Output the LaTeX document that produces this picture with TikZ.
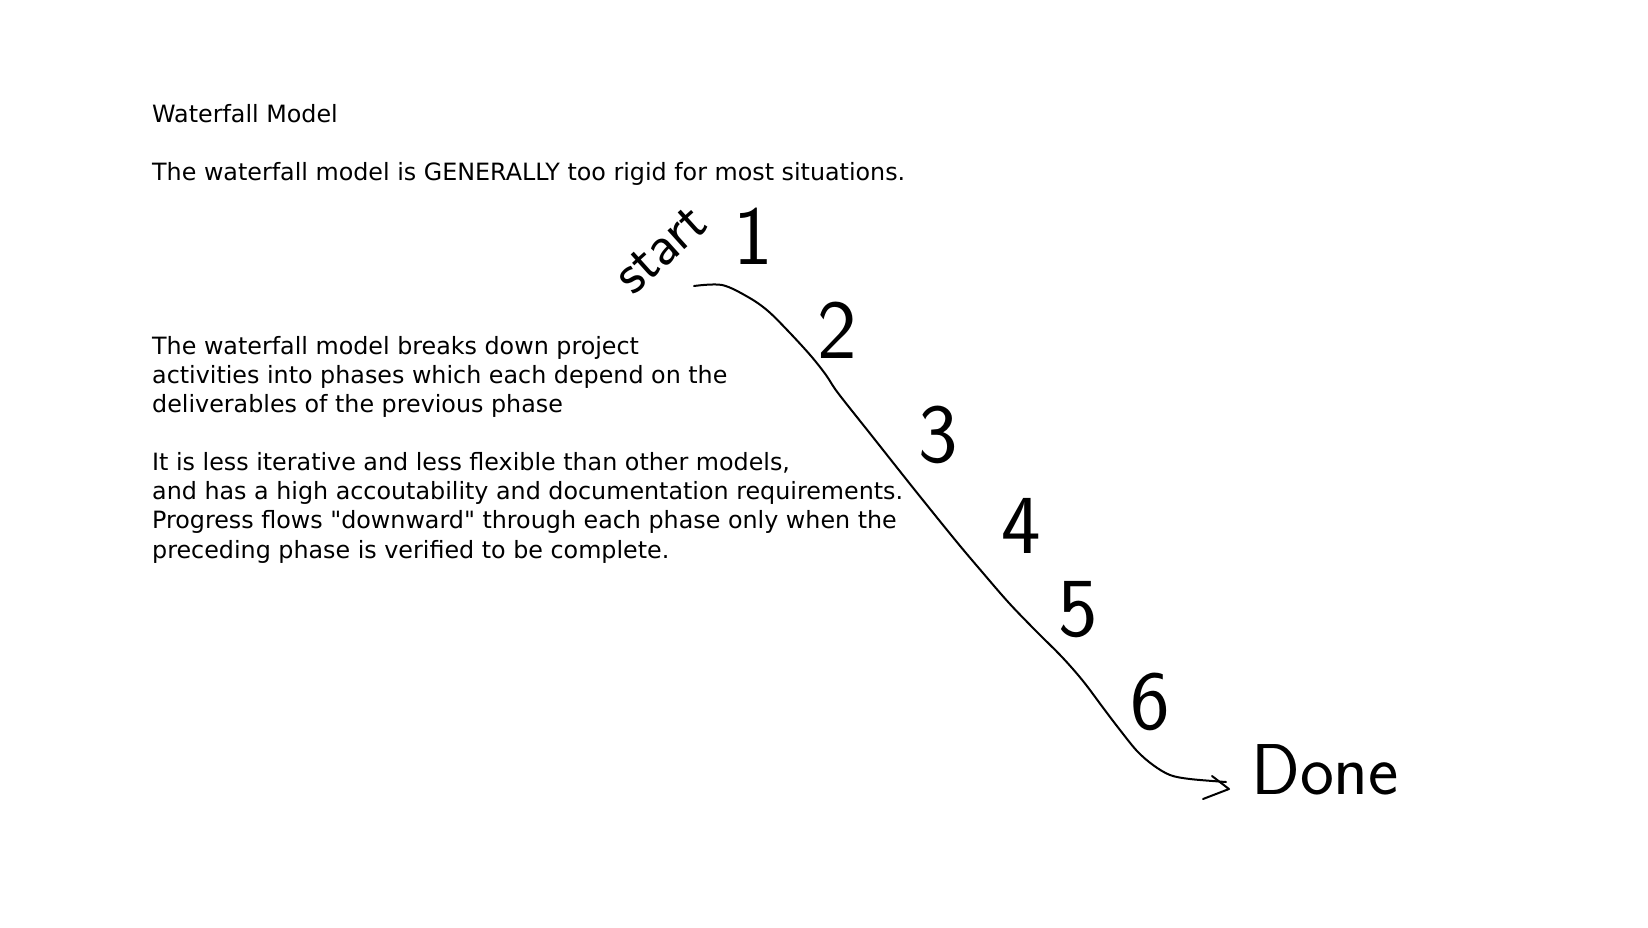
\documentclass[tikz,border=0pt]{standalone}
\usepackage{fontspec}
\newfontfamily\notefont{DejaVu Sans}
\usetikzlibrary{positioning}

\begin{document}
\begin{tikzpicture}[x=1pt,y=-1pt,
  note/.style={anchor=base west,align=left,inner sep=0pt,
               font=\notefont\fontsize{23.8}{29.4}\selectfont},
  hand/.style={line width=2pt,line cap=round,line join=round},
  scrawl/.style={inner sep=0pt,font=\sffamily\fontsize{84}{84}\selectfont}]
  \useasboundingbox[fill=white] (0,0) rectangle (1648,927);
  % typed notes (base = last line)
  \node[note] (title) at (152,122) {Waterfall Model};
  \node[note] (rigid) at (152,180)
    {The waterfall model is GENERALLY too rigid for most situations.};
  \node[note] (phases) at (152,412.8)
    {The waterfall model breaks down project\\
     activities into phases which each depend on the\\
     deliverables of the previous phase};
  \node[note] (flows) at (152,558.2)
    {It is less iterative and less flexible than other models,\\
     and has a high accoutability and documentation requirements.\\
     Progress flows "downward" through each phase only when the\\
     preceding phase is verified to be complete.};
  % hand-written fall
  \node[scrawl,font=\sffamily\fontsize{58}{58}\selectfont,rotate=42]
    (start) at (661,250) {start};
  \foreach \n/\px/\py in {1/753/236,2/837/330,3/938/435,
                          4/1021/526,5/1078/610,6/1150/702}
    \node[scrawl] (ph\n) at (\px,\py) {\n};
  \node[scrawl,font=\sffamily\fontsize{72}{72}\selectfont]
    (done) at (1325,770) {Done};
  \coordinate (flowtop) at (694,286);
  \coordinate (flowend) at (1226,782);
  \draw[hand] plot[smooth,tension=0.55] coordinates {(flowtop) (722,285)
    (748,297) (768,311) (790,333) (811,356) (826,375) (838,393)
    (872,436) (914,489) (956,541) (983,573) (1009,603) (1035,630)
    (1062,657) (1083,681) (1104,709) (1120,730) (1137,751) (1153,765)
    (1170,775) (1190,779) (flowend)};
  \draw[hand] ([shift={(-14,-6)}]flowend) -- ([shift={(3,7)}]flowend)
    -- ([shift={(-23,17)}]flowend);
\end{tikzpicture}
\end{document}
